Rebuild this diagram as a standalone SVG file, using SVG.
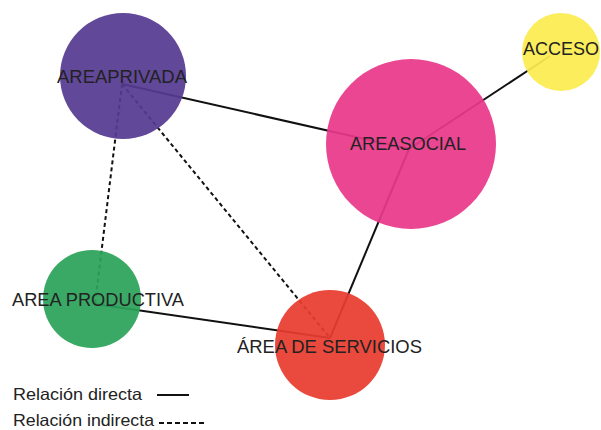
<svg xmlns="http://www.w3.org/2000/svg" width="601" height="430" viewBox="0 0 601 430">
<style>
.e{stroke:#111;stroke-width:2;fill:none}
.d{stroke-dasharray:4 3}
.n{opacity:0.93}
.t{font-family:"Liberation Sans",Arial,sans-serif;font-size:18px;fill:#222}
.l{font-family:"Liberation Sans",Arial,sans-serif;font-size:16.5px;fill:#222}
</style>
<rect width="601" height="430" fill="#fff"/>
<g id="connectors">
<line class="e" x1="122" y1="84" x2="409" y2="149"/>
<line class="e" x1="409" y1="149" x2="550" y2="56"/>
<line class="e" x1="409" y1="149" x2="330" y2="338"/>
<line class="e" x1="95" y1="304" x2="330" y2="338"/>
<line class="e d" x1="122" y1="84" x2="95" y2="304"/>
<line class="e d" x1="122" y1="84" x2="330" y2="338"/>
</g>
<g id="areaprivada"><circle class="n" cx="123" cy="76" r="63" fill="#553a91"/><text class="t" x="57" y="83" textLength="130" lengthAdjust="spacingAndGlyphs">AREAPRIVADA</text></g>
<g id="areasocial"><circle class="n" cx="411" cy="144" r="85" fill="#e8388a"/><text class="t" x="350" y="150" textLength="116" lengthAdjust="spacingAndGlyphs">AREASOCIAL</text></g>
<g id="acceso"><circle class="n" cx="561" cy="52" r="39" fill="#fbec4f"/><text class="t" x="523" y="55" textLength="76" lengthAdjust="spacingAndGlyphs">ACCESO</text></g>
<g id="areaproductiva"><circle class="n" cx="92" cy="299" r="49" fill="#2ca25a"/><text class="t" x="12" y="306" textLength="172" lengthAdjust="spacingAndGlyphs">AREA PRODUCTIVA</text></g>
<g id="areaservicios"><circle class="n" cx="330" cy="345" r="55" fill="#e83c2e"/><text class="t" x="237" y="353" textLength="185" lengthAdjust="spacingAndGlyphs">ÁREA DE SERVICIOS</text></g>
<g id="legend">
<text class="l" x="13" y="400" textLength="129" lengthAdjust="spacingAndGlyphs">Relación directa</text>
<line class="e" x1="157" y1="395" x2="189" y2="395" stroke-width="1.5"/>
<text class="l" x="13" y="426" textLength="141" lengthAdjust="spacingAndGlyphs">Relación indirecta</text>
<line class="e" x1="159" y1="423" x2="204" y2="423" stroke-width="1.5" style="stroke-dasharray:5 3"/>
</g>
</svg>
